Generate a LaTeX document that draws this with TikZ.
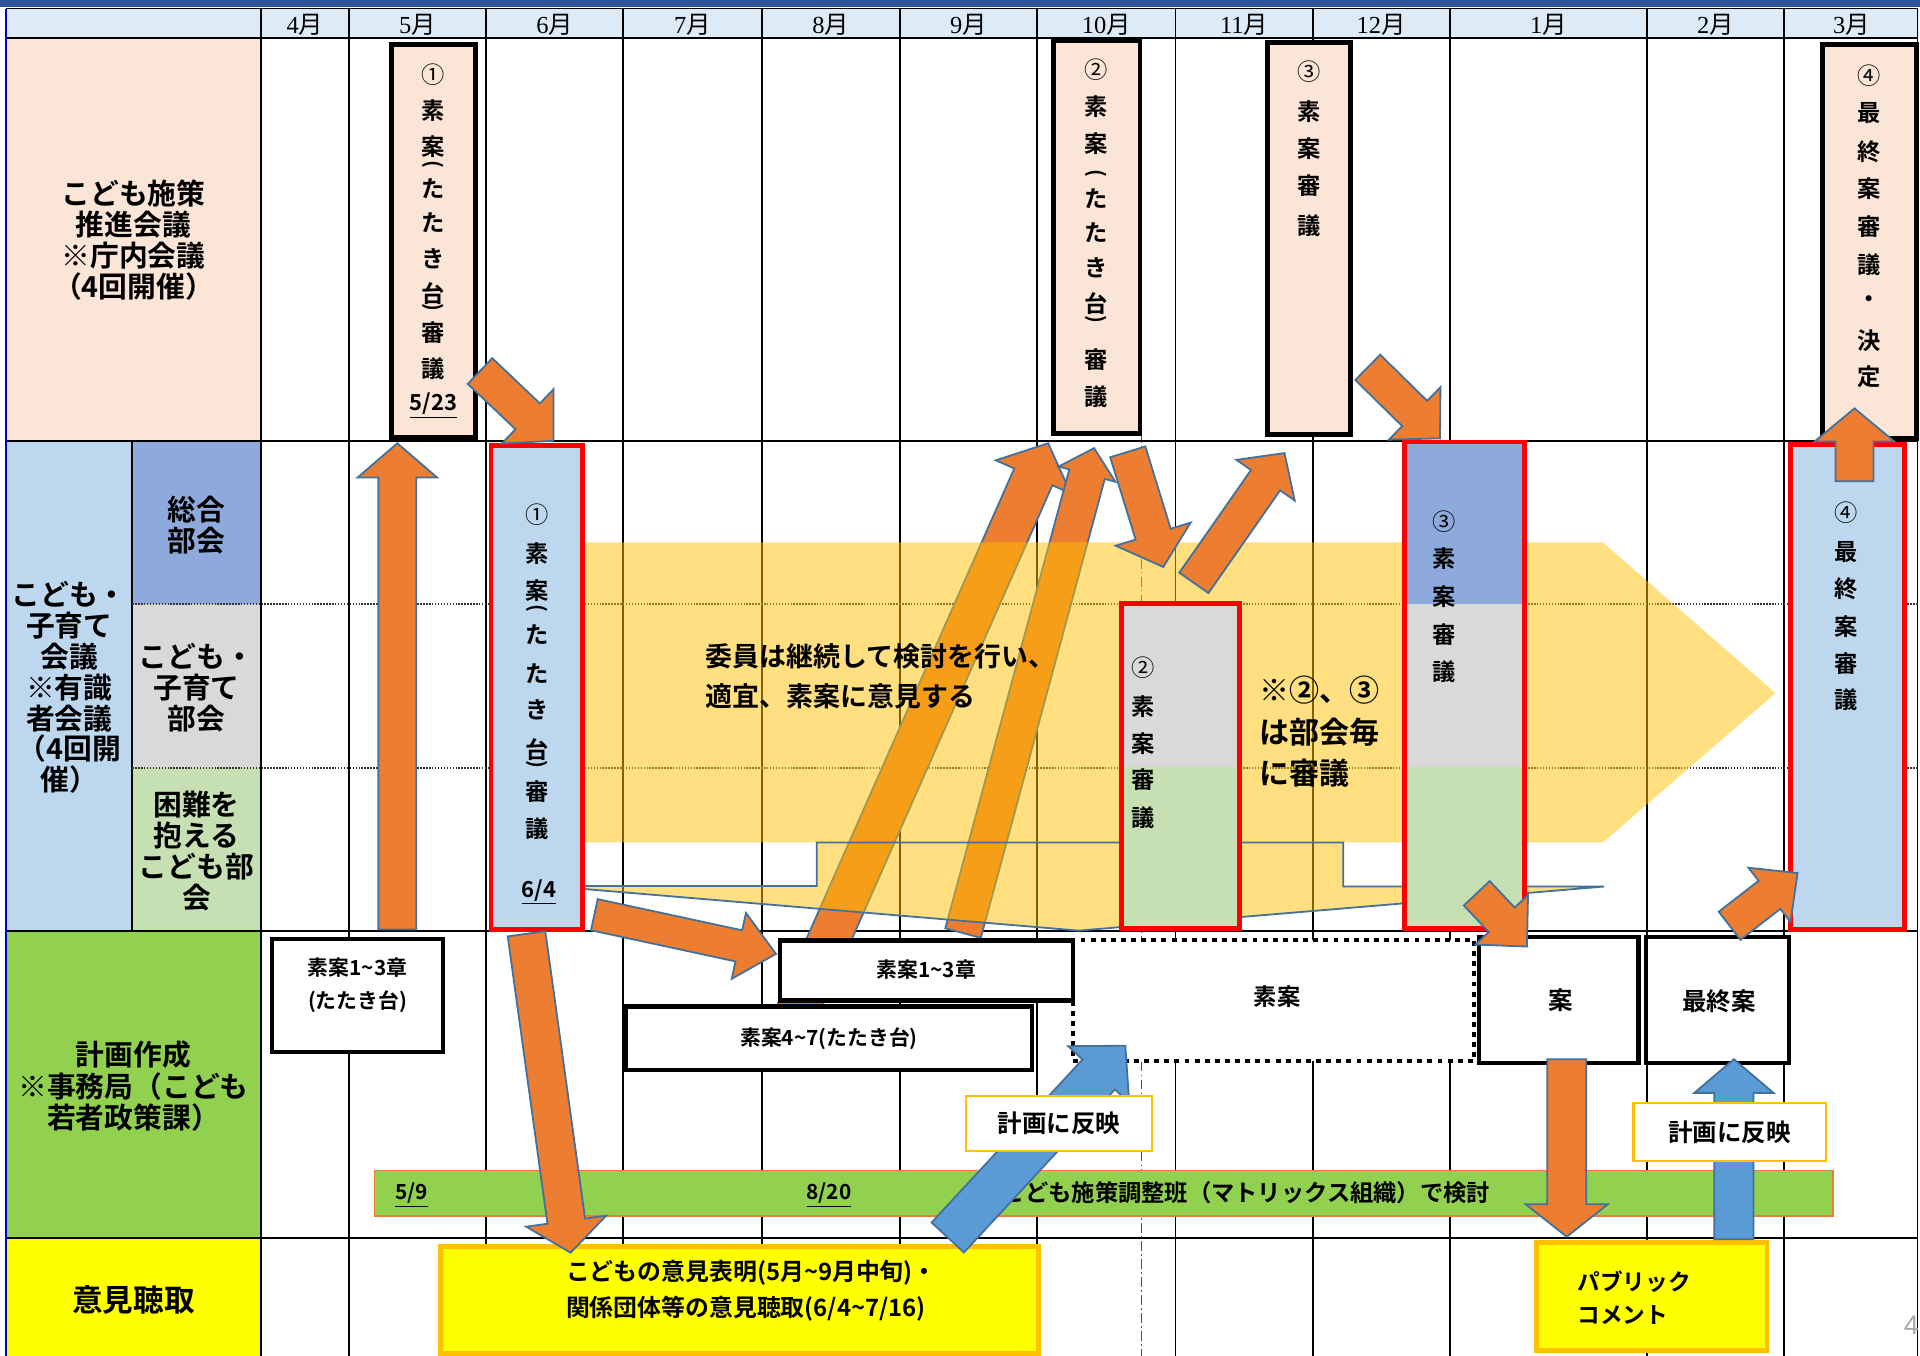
\documentclass[tikz,border=0pt]{standalone}
\usepackage{fontspec}
\setmainfont{Noto Sans CJK JP}[BoldFont={Noto Sans CJK JP Bold}]
\newfontfamily\serifnum{Liberation Serif}
\newfontfamily\pgfam{Liberation Sans}
\newdimen\ulen \ulen=0.75pt
\newcommand\fs[2]{\fontsize{\dimexpr#1\ulen\relax}{\dimexpr#2\ulen\relax}\selectfont}
\newcommand\tld{\string~}
\definecolor{topblue}{HTML}{2F5597}
\definecolor{hdr}{HTML}{DDEBF7}
\definecolor{peach}{HTML}{FBE5D6}
\definecolor{lblue}{HTML}{BDD7EE}
\definecolor{sogo}{HTML}{8EA9DB}
\definecolor{lgray}{HTML}{D9D9D9}
\definecolor{lgreen}{HTML}{C6E0B4}
\definecolor{kgreen}{HTML}{92D050}
\definecolor{yel}{HTML}{FFFF00}
\definecolor{gold}{HTML}{FFC000}
\definecolor{aorange}{HTML}{ED7D31}
\definecolor{aedge}{HTML}{41719C}
\definecolor{ablue}{HTML}{5B9BD5}
\definecolor{pgray}{HTML}{A6A6A6}
% block arrow: style, tail x, tail y, tip x, tip y, shaft width, head width, head length
\newcommand\blockarrow[8]{%
 \pgfmathsetmacro\BAdx{(#4)-(#2)}%
 \pgfmathsetmacro\BAdy{(#5)-(#3)}%
 \pgfmathsetmacro\BAlen{veclen(\BAdx,\BAdy)}%
 \pgfmathsetmacro\BAux{(\BAdx)/(\BAlen)}%
 \pgfmathsetmacro\BAuy{(\BAdy)/(\BAlen)}%
 \pgfmathsetmacro\BAbx{(#4)-(\BAux)*(#8)}%
 \pgfmathsetmacro\BAby{(#5)-(\BAuy)*(#8)}%
 \pgfmathsetmacro\BAnx{0-(\BAuy)}%
 \pgfmathsetmacro\BAny{\BAux}%
 \draw[#1] ({#2+(\BAnx)*(#6)/2},{#3+(\BAny)*(#6)/2})
  -- ({\BAbx+(\BAnx)*(#6)/2},{\BAby+(\BAny)*(#6)/2})
  -- ({\BAbx+(\BAnx)*(#7)/2},{\BAby+(\BAny)*(#7)/2})
  -- (#4,#5)
  -- ({\BAbx-(\BAnx)*(#7)/2},{\BAby-(\BAny)*(#7)/2})
  -- ({\BAbx-(\BAnx)*(#6)/2},{\BAby-(\BAny)*(#6)/2})
  -- ({#2-(\BAnx)*(#6)/2},{#3-(\BAny)*(#6)/2}) -- cycle;%
}
\tikzset{
 grid/.style={black, line width=1.1pt},
 dotline/.style={black!80, line width=1.1pt, dash pattern=on 0.9pt off 0.9pt},
 pbox/.style={fill=peach, draw=black, line width=3pt},
 rbox/.style={draw=red, line width=3pt},
 wbox/.style={fill=white, draw=black, line width=2.6pt},
 dotbox/.style={fill=white, draw=black, line width=2.6pt, dash pattern=on 3pt off 3.2pt},
 ybox/.style={fill=yel, draw=gold, line width=3pt},
 hbox/.style={fill=white, draw=gold, line width=1.3pt},
 gbar/.style={fill=kgreen, draw=aorange, line width=0.8pt},
 oarrow/.style={fill=aorange, draw=aedge, line width=1.1pt, line join=miter},
 barrow/.style={fill=ablue, draw=aedge, line width=1.1pt, line join=miter},
 yelarrow/.style={fill=gold, fill opacity=0.5},
 month/.style={font=\fs{20}{20}, inner sep=0pt},
 vch/.style={font=\bfseries\fs{19}{19}, inner sep=0pt},
 vpar/.style={font=\bfseries\fs{17}{17}, inner sep=0pt, rotate=-90},
 vnum/.style={font=\fs{19}{19}, inner sep=0pt},
 date/.style={font=\bfseries\fs{18}{18}, inner sep=0pt},
 lbl/.style={font=\bfseries\fs{23.5}{25.3}, align=center, inner sep=0pt},
 t3/.style={font=\bfseries\fs{17}{27}, align=center, inner sep=0pt},
}
\begin{document}
\begin{tikzpicture}[x=0.75pt,y=-0.75pt]
\useasboundingbox (0,0) rectangle (1568,1107);
\fill[white] (0,0) rectangle (1568,1107);
% top band and header
\fill[topblue] (0,0) rectangle (1568,6);
\fill[hdr] (5,7) rectangle (1567,31);
% label fills
\fill[peach] (5,31) rectangle (213,360);
\fill[lblue] (5,360) rectangle (108,760);
\fill[sogo] (108,360) rectangle (213,493);
\fill[lgray] (108,493) rectangle (213,627);
\fill[lgreen] (108,627) rectangle (213,760);
\fill[kgreen] (5,760) rectangle (213,1011);
\fill[yel] (5,1011) rectangle (213,1107);
% red dash-dot guide line
\draw[red, line width=0.6pt, dash pattern=on 6pt off 2pt on 1pt off 2pt] (932,31) -- (932,1107);
% grid
\foreach \x in {213,285,397,509,622,735,847,960,1072,1184,1345,1457,1566}
  \draw[grid] (\x,7) -- (\x,1107);
\foreach \y in {7,31,360,760,1011}
  \draw[grid] (5,\y) -- (1566,\y);
\draw[grid] (108,360) -- (108,760);
\draw[dotline] (108,493) -- (1566,493);
\draw[dotline] (108,627) -- (1566,627);
\draw[blue!80!black, line width=1.4pt] (5,7) -- (5,1107);
% month headers
\foreach \cx/\m [count=\i] in {249/4,341/5,453/6,565.5/7,678.5/8,791/9,903.5/10,1016/11,1128/12,1264.5/1,1401/2,1512/3}
  \node[month] (mon\i) at (\cx,20) {{\serifnum\m}月};
% row 1 boxes
\draw[pbox] (320,36) rectangle (388,357);
\draw[pbox] (860,33) rectangle (931,354);
\draw[pbox] (1035,35) rectangle (1103,355);
\draw[pbox] (1488,36) rectangle (1565,358);
% long diagonal arrows (under the yellow band)
\blockarrow{oarrow}{647}{835}{856}{362}{34}{67}{30}
\blockarrow{oarrow}{786.5}{762}{893.5}{366}{30}{48}{22}
% yellow band arrow and bracket
\fill[yelarrow] (477,443) -- (1309,443) -- (1450,566) -- (1309,688) -- (477,688) -- cycle;
\draw[aedge, line width=1.1pt, fill=gold, fill opacity=0.5] (477,723.6) -- (667,723.6) -- (667,688) -- (1097,688) -- (1097,724) -- (1310,724) -- (881,760) -- (477,726) -- cycle;
% row 2 red boxes
\fill[lblue] (401,364) rectangle (476,759);
\draw[rbox] (401,364) rectangle (476,759);
\fill[lgray] (916,493) rectangle (1012,626);
\fill[lgreen] (916,626) rectangle (1012,758);
\draw[rbox] (916,493) rectangle (1012,758);
\fill[sogo] (1147,361) rectangle (1245,493);
\fill[lgray] (1147,493) rectangle (1245,626);
\fill[lgreen] (1147,626) rectangle (1245,758);
\draw[rbox] (1147,361) rectangle (1245,758);
\fill[lblue] (1462,363) rectangle (1555,759);
\draw[rbox] (1462,363) rectangle (1555,759);
% row 3 boxes
\draw[dotbox] (876,767.7) rectangle (1204,866.5);
\draw[wbox] (222,767) rectangle (362,859);
\draw[wbox] (637,768) rectangle (876,817);
\draw[wbox] (511,822) rectangle (843,874);
\draw[wbox] (1208,765) rectangle (1338,868);
\draw[wbox] (1344,765) rectangle (1461,868);
% green bar
\draw[gbar] (306,956) rectangle (1497,993);
\node[font=\bfseries\fs{17}{17}, inner sep=0pt] (g59) at (336,976) {\underline{5/9}};
\node[font=\bfseries\fs{17}{17}, inner sep=0pt] (g820) at (677,976) {\underline{8/20}};
\node[font=\bfseries\fs{19}{19}, inner sep=0pt] (gtxt) at (1017.5,974) {こども施策調整班（マトリックス組織）で検討};
% row 4 boxes
\draw[ybox] (360,1018) rectangle (848,1105);
\draw[ybox] (1255,1015) rectangle (1443,1103);
% orange arrows
\blockarrow{oarrow}{324.5}{759}{324.5}{362}{31}{65}{28}
\blockarrow{oarrow}{392}{303}{452}{360}{29}{61}{29}
\blockarrow{oarrow}{1117}{300}{1176}{358}{29}{60}{29}
\blockarrow{oarrow}{1514.5}{393}{1514.5}{333.5}{31}{65}{27}
\blockarrow{oarrow}{430}{762.6}{466}{1023}{31}{66}{26}
\blockarrow{oarrow}{485.4}{747}{633.7}{779}{26}{55}{31}
\blockarrow{oarrow}{921}{369}{950}{463}{30}{64}{28}
\blockarrow{oarrow}{975}{476}{1049}{370}{29}{58}{27}
\blockarrow{oarrow}{1206}{729.5}{1247}{773}{29}{59}{30}
\blockarrow{oarrow}{1412.5}{756}{1468}{713}{29}{56}{29}
\blockarrow{oarrow}{1279.5}{865}{1279.5}{1010}{32}{67}{26.5}
% blue arrows
\blockarrow{barrow}{774}{1010.6}{919}{854}{36}{68}{32}
\blockarrow{barrow}{1416}{1012}{1416}{865}{32}{64.5}{27.5}
% reflect boxes
\draw[hbox] (789,895) rectangle (941,940);
\draw[hbox] (1334,901) rectangle (1491,948);
\node[font=\bfseries\fs{20}{20}, inner sep=0pt] (hanei1) at (865,917.5) {計画に反映};
\node[font=\bfseries\fs{20}{20}, inner sep=0pt] (hanei2) at (1412.5,925) {計画に反映};
% vertical texts, row 1
\node[vnum] (pa0) at (354,61) {①};
\foreach \yy/\ch [count=\i] in {90/素,120/案,154/た,182/た,211/き,240/台,272/審,301/議}
  \node[vch] (pa\i) at (354,\yy) {\ch};
\node[vpar] (pal) at (354,134.5) {(};
\node[vpar] (par) at (354,251) {)};
\node[date] (pad) at (354,331) {\underline{5/23}};
\node[vnum] (pb0) at (895.5,57) {②};
\foreach \yy/\ch [count=\i] in {87/素,117/案,162/た,190/た,219/き,248/台,294/審,324/議}
  \node[vch] (pb\i) at (895.5,\yy) {\ch};
\node[vpar] (pbl) at (895.5,142) {(};
\node[vpar] (pbr) at (895.5,261) {)};
\node[vnum] (pc0) at (1069,58.5) {③};
\foreach \yy/\ch [count=\i] in {91/素,121/案,152/審,184/議}
  \node[vch] (pc\i) at (1069,\yy) {\ch};
\node[vnum] (pd0) at (1526.5,62) {④};
\foreach \yy/\ch [count=\i] in {92.6/最,124/終,154/案,185/審,216/議,246/・,278/決,308/定}
  \node[vch] (pd\i) at (1526.5,\yy) {\ch};
% vertical texts, row 2
\node[vnum] (ra0) at (438.5,420) {①};
\foreach \yy/\ch [count=\i] in {452/素,482/案,518.6/た,550/た,580/き,612.5/台,646.6/審,676.6/議}
  \node[vch] (ra\i) at (438.5,\yy) {\ch};
\node[vpar] (ral) at (438.5,497) {(};
\node[vpar] (rar) at (438.5,624) {)};
\node[date] (rad) at (440,728.6) {\underline{6/4}};
\node[vnum] (rb0) at (933.6,545.6) {②};
\foreach \yy/\ch [count=\i] in {577/素,607/案,637/審,668/議}
  \node[vch] (rb\i) at (933.6,\yy) {\ch};
\node[vnum] (rc0) at (1179,426) {③};
\foreach \yy/\ch [count=\i] in {456/素,487/案,518/審,548.6/議}
  \node[vch] (rc\i) at (1179,\yy) {\ch};
\node[vnum] (rd0) at (1508,419) {④};
\foreach \yy/\ch [count=\i] in {450.6/最,480.5/終,512/案,541.8/審,571.7/議}
  \node[vch] (rd\i) at (1508,\yy) {\ch};
% labels
\node[lbl] (lab1) at (109,196) {こども施策\\推進会議\\※庁内会議\\（4回開催）};
\node[lbl, font=\bfseries\fs{23.5}{25.2}] (lab2) at (56.5,561.5) {こども・\\子育て\\会議\\※有識\\者会議\\（4回開\\催）};
\node[lbl] (sub1) at (160.5,429) {総合\\部会};
\node[lbl] (sub2) at (160.5,561.5) {こども・\\子育て\\部会};
\node[lbl] (sub3) at (160.5,695) {困難を\\抱える\\こども部\\会};
\node[lbl, font=\bfseries\fs{23.5}{25.7}] (lab3) at (109,887.3) {計画作成\\※事務局（こども\\若者政策課）};
\node[lbl, font=\bfseries\fs{25}{26}] (lab4) at (109,1061.7) {意見聴取};
% notes in the yellow band
\node[anchor=west, font=\bfseries\fs{22}{33}, align=left, inner sep=0pt] (note1) at (576,552.5) {委員は継続して検討を行い、\\適宜、素案に意見する};
\node[anchor=west, font=\bfseries\fs{24.5}{34}, align=left, inner sep=0pt] (note2) at (1028,597.5) {※②、③\\は部会毎\\に審議};
% row 3 texts
\node[t3] (s13a) at (292,804.3) {素案1\tld 3章\\(たたき台)};
\node[t3] (s13b) at (756.5,792) {素案1\tld 3章};
\node[t3] (s47) at (677,848) {素案4\tld 7(たたき台)};
\node[font=\bfseries\fs{19}{19}, inner sep=0pt] (soan) at (1043,814) {素案};
\node[font=\bfseries\fs{20}{20}, inner sep=0pt] (an) at (1275,816.5) {案};
\node[font=\bfseries\fs{20}{20}, inner sep=0pt] (saishu) at (1404,818) {最終案};
% row 4 texts
\node[anchor=west, font=\bfseries\fs{19.5}{29}, align=left, inner sep=0pt] (iken) at (462,1054) {こどもの意見表明(5月\tld 9月中旬)・\\関係団体等の意見聴取(6/4\tld 7/16)};
\node[anchor=west, font=\bfseries\fs{18.5}{27}, align=left, inner sep=0pt] (pcom) at (1288,1060) {パブリック\\コメント};
% page number
\node[font=\pgfam\fs{22}{22}, text=pgray, inner sep=0pt] (pnum) at (1561,1082) {4};
\end{tikzpicture}
\end{document}
